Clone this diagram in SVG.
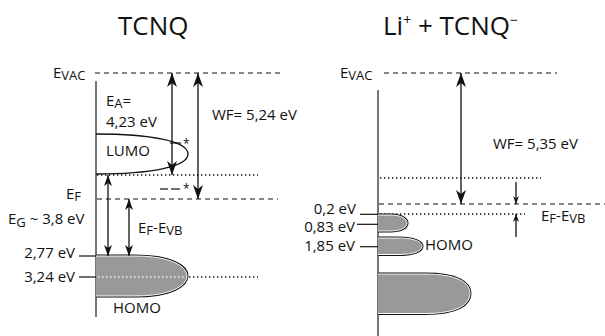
<svg xmlns="http://www.w3.org/2000/svg" width="605" height="336" viewBox="0 0 605 336">
<style>
text{font-family:"Open Sans","Liberation Sans",sans-serif;fill:#111}
.t{font-size:26px}
.l{font-size:15px}
.sub{font-size:13px}
.axis{stroke:#555;stroke-width:1.6;fill:none}
.dash{stroke:#111;stroke-width:1.1;stroke-dasharray:5,4;fill:none}
.dot{stroke:#111;stroke-width:1.4;stroke-dasharray:1.4,2.6;fill:none}
.dotw{stroke:#fff;stroke-width:1.4;stroke-dasharray:1.4,2.6;fill:none}
.ar{stroke:#111;stroke-width:1.3;fill:none}
.tick{stroke:#111;stroke-width:1.2}
.band{fill:#999;stroke:#111;stroke-width:3}
.bandw{fill:#999;stroke:#fff;stroke-width:1}
</style>
<defs>
<marker id="big" markerUnits="userSpaceOnUse" markerWidth="16" markerHeight="12" refX="14" refY="5" orient="auto-start-reverse" viewBox="0 0 16 10">
<path d="M0,0 L14,5 L0,10 L4,5 Z" fill="#111"/>
</marker>
<marker id="mid" markerUnits="userSpaceOnUse" markerWidth="12" markerHeight="9" refX="11" refY="4" orient="auto-start-reverse" viewBox="0 0 12 8">
<path d="M0,0 L11,4 L0,8 L3,4 Z" fill="#111"/>
</marker>
<marker id="sm" markerUnits="userSpaceOnUse" markerWidth="9" markerHeight="7" refX="8" refY="3" orient="auto-start-reverse" viewBox="0 0 9 6">
<path d="M0,0 L8,3 L0,6 L2.5,3 Z" fill="#111"/>
</marker>
</defs>

<g id="titles">
<text class="t" x="118" y="35">TCNQ</text>
<text class="t" x="383" y="35">Li<tspan font-size="14" dy="-10">+</tspan><tspan dy="10"> + TCNQ</tspan><tspan font-size="14" dy="-10">−</tspan></text>
</g>

<g id="tcnq">
<line class="axis" x1="96" y1="81" x2="96" y2="317"/>
<text class="l" x="53" y="78">E<tspan class="sub" dy="2">VAC</tspan></text>
<line class="dash" x1="95" y1="73" x2="282" y2="73"/>
<g id="lumo">
<path d="M96,134 C150,134 188,141 188,154 C188,167 150,174 96,174" fill="none" stroke="#111" stroke-width="1.3"/>
<text class="l" x="106" y="156">LUMO</text>
</g>
<line class="dot" x1="97" y1="175" x2="258" y2="175"/>
<text class="l" x="106" y="106">E<tspan class="sub" dy="2">A</tspan><tspan dy="-2">=</tspan></text>
<text class="l" x="106" y="127">4,23 eV</text>
<text class="l" x="212" y="120">WF= 5,24 eV</text>
<line class="tick" x1="170" y1="143" x2="181" y2="143"/>
<text font-size="12" x="183" y="148">*</text>
<line class="tick" x1="160" y1="189" x2="168" y2="189"/>
<line class="tick" x1="171" y1="189" x2="180" y2="189"/>
<text font-size="12" x="183" y="193">*</text>
<text class="l" x="66" y="199">E<tspan class="sub" dy="2">F</tspan></text>
<line class="dash" x1="97" y1="199" x2="278" y2="199"/>
<text class="l" x="8" y="224">E<tspan class="sub" dy="3">G</tspan><tspan dy="-3"> ~ 3,8 eV</tspan></text>
<text class="l" x="138" y="233">E<tspan class="sub" dy="2">F</tspan><tspan dy="-2">-E</tspan><tspan class="sub" dy="2">VB</tspan></text>
<g id="homo1">
<path class="band" d="M96,256 H135 C170,256 187,266 187,276 C187,286 170,296 135,296 H96"/>
<path class="bandw" d="M96,256 H135 C170,256 187,266 187,276 C187,286 170,296 135,296 H96"/>
<line class="dotw" x1="98" y1="277" x2="186" y2="277"/>
<line class="dot" x1="189" y1="277" x2="258" y2="277"/>
<text class="l" x="113" y="313">HOMO</text>
</g>
<line class="tick" x1="79" y1="256" x2="96" y2="256"/>
<line class="tick" x1="79" y1="277" x2="96" y2="277"/>
<text class="l" x="75" y="258" text-anchor="end">2,77 eV</text>
<text class="l" x="75" y="282" text-anchor="end">3,24 eV</text>
</g>

<g id="litcnq">
<line class="axis" x1="378" y1="90" x2="378" y2="336"/>
<text class="l" x="340" y="78">E<tspan class="sub" dy="2">VAC</tspan></text>
<line class="dash" x1="384" y1="73" x2="557" y2="73"/>
<text class="l" x="493" y="149">WF= 5,35 eV</text>
<line class="dot" x1="380" y1="178" x2="541" y2="178"/>
<line class="dash" x1="379" y1="204" x2="605" y2="204"/>
<line class="dot" x1="380" y1="214" x2="525" y2="214"/>
<text class="l" x="541" y="221">E<tspan class="sub" dy="2">F</tspan><tspan dy="-2">-E</tspan><tspan class="sub" dy="2">VB</tspan></text>
<g id="homo2">
<path class="band" d="M378,215 H390 C402,215 407,219 407,223 C407,227 402,231 390,231 H378"/>
<path class="bandw" d="M378,215 H390 C402,215 407,219 407,223 C407,227 402,231 390,231 H378"/>
<path class="band" d="M378,238 H398 C415,238 422,242 422,246.3 C422,250.5 415,254.5 398,254.5 H378"/>
<path class="bandw" d="M378,238 H398 C415,238 422,242 422,246.3 C422,250.5 415,254.5 398,254.5 H378"/>
<path class="band" d="M378,274 H425 C458,274 470,283 470,293.5 C470,304 458,313.5 425,313.5 H378"/>
<path class="bandw" d="M378,274 H425 C458,274 470,283 470,293.5 C470,304 458,313.5 425,313.5 H378"/>
<text class="l" x="425" y="250">HOMO</text>
</g>
<line class="tick" x1="360" y1="214.3" x2="378" y2="214.3"/>
<line class="tick" x1="357" y1="224.3" x2="378" y2="224.3" stroke="#555" stroke-width="1.6"/>
<line class="tick" x1="360" y1="246.7" x2="378" y2="246.7"/>
<text class="l" x="356" y="214" text-anchor="end">0,2 eV</text>
<text class="l" x="355" y="232" text-anchor="end">0,83 eV</text>
<text class="l" x="355" y="251" text-anchor="end">1,85 eV</text>
</g>

<g id="connectors">
<line class="ar" x1="172" y1="73" x2="172" y2="175" marker-start="url(#big)" marker-end="url(#big)"/>
<line class="ar" x1="198" y1="73" x2="198" y2="199" marker-start="url(#big)" marker-end="url(#big)"/>
<line class="ar" x1="108" y1="175" x2="108" y2="256" marker-start="url(#mid)" marker-end="url(#mid)"/>
<line class="ar" x1="129" y1="199" x2="129" y2="256" marker-start="url(#mid)" marker-end="url(#mid)"/>
<line class="ar" x1="461" y1="73" x2="461" y2="204" marker-start="url(#big)" marker-end="url(#big)"/>
<line class="ar" x1="516" y1="182" x2="516" y2="204" marker-end="url(#sm)"/>
<line class="ar" x1="516" y1="237" x2="516" y2="214" marker-end="url(#sm)"/>
</g>
</svg>
